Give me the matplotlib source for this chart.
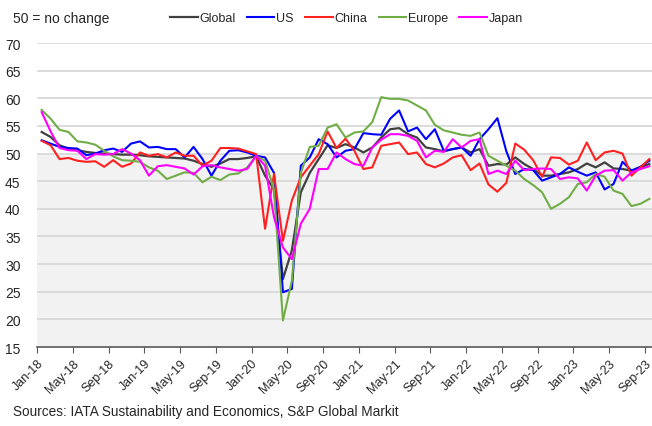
import matplotlib
matplotlib.use('Agg')
import matplotlib.pyplot as plt
import numpy as np

plt.rcParams['font.family'] = ['Liberation Sans', 'DejaVu Sans']

## monthly index values, Jan-18 .. Sep-23
glob = [53.9, 53.0, 51.5, 50.9, 50.6, 50.3, 50.1, 50.0, 49.9, 49.8, 49.8, 49.7,
        49.5, 49.4, 49.3, 49.2, 49.1, 48.7, 48.1, 47.6, 48.2, 49.0, 49.0, 49.2,
        49.5, 46.0, 43.5, 27.3, 32.5, 43.0, 46.5, 49.0, 51.5, 51.0, 51.7, 51.1,
        50.2, 51.1, 52.9, 54.4, 54.6, 53.5, 52.9, 51.1, 50.8, 50.4, 50.8, 51.1,
        50.2, 50.8, 47.8, 48.1, 48.0, 49.3, 48.1, 47.2, 46.0, 46.0, 46.3, 46.6,
        47.2, 48.2, 47.5, 48.4, 47.3, 47.2, 46.9, 47.5, 48.1]
us = [52.4, 51.8, 51.2, 51.0, 50.9, 49.7, 50.0, 50.6, 50.9, 50.3, 51.8, 52.2,
      51.1, 51.2, 50.8, 50.8, 49.3, 51.2, 49.0, 46.0, 48.7, 50.5, 50.6, 50.2,
      49.6, 49.3, 46.5, 24.9, 25.5, 47.8, 49.3, 52.6, 51.7, 49.3, 50.5, 50.8,
      53.7, 53.5, 53.4, 56.3, 57.8, 54.0, 54.7, 52.6, 54.4, 50.5, 50.8, 51.1,
      49.6, 52.6, 54.4, 56.4, 50.4, 46.3, 47.2, 47.0, 45.1, 45.7, 46.3, 47.5,
      46.7, 46.0, 46.6, 43.5, 44.5, 48.5, 46.9, 47.6, 48.7]
china = [52.3, 51.5, 49.0, 49.2, 48.7, 48.5, 48.6, 47.6, 48.8, 47.6, 48.2, 50.2,
         49.6, 49.9, 49.3, 50.2, 49.6, 49.6, 47.8, 48.7, 51.0, 51.0, 50.9, 50.4,
         49.9, 36.4, 46.3, 34.2, 41.5, 45.7, 47.8, 49.9, 54.0, 51.0, 52.7, 50.5,
         47.2, 47.5, 51.4, 51.7, 52.0, 49.9, 50.2, 48.1, 47.5, 48.2, 49.3, 49.7,
         47.0, 48.2, 44.4, 43.1, 44.7, 51.8, 50.7, 48.8, 45.8, 49.3, 49.2, 48.0,
         48.7, 52.0, 48.8, 50.2, 50.5, 50.0, 46.0, 47.5, 49.0]
europe = [57.9, 56.3, 54.3, 53.9, 52.2, 52.0, 51.6, 50.5, 49.5, 48.8, 48.7, 48.5,
          47.5, 46.9, 45.4, 46.0, 46.6, 46.5, 44.8, 45.8, 45.2, 46.2, 46.4, 47.5,
          49.5, 48.7, 43.5, 19.8, 27.0, 46.5, 51.2, 51.4, 54.7, 55.3, 52.9, 53.8,
          54.0, 55.7, 60.2, 59.9, 59.9, 59.6, 58.7, 57.8, 55.2, 54.2, 53.8, 53.4,
          53.2, 53.8, 49.6, 48.7, 47.8, 46.9, 45.4, 44.3, 43.0, 40.0, 40.9, 42.1,
          44.5, 44.8, 46.3, 45.8, 43.3, 42.7, 40.5, 40.9, 41.8]
japan = [57.5, 54.0, 51.0, 50.6, 50.5, 49.0, 49.9, 49.8, 49.9, 50.8, 50.0, 48.8,
         46.0, 47.7, 47.9, 47.6, 47.3, 46.2, 47.7, 47.9, 47.5, 47.2, 46.9, 47.2,
         49.6, 47.8, 38.5, 33.0, 30.9, 37.3, 40.0, 47.2, 47.2, 50.2, 49.0, 48.1,
         47.8, 51.1, 52.5, 53.5, 53.5, 53.2, 52.3, 49.3, 50.5, 50.3, 52.6, 51.1,
         52.3, 52.6, 46.3, 46.9, 46.3, 48.7, 47.0, 47.2, 47.3, 47.2, 45.4, 45.7,
         45.5, 43.3, 46.0, 46.9, 47.0, 45.1, 46.6, 47.2, 47.7]

tick_labels = ['Jan-18', 'May-18', 'Sep-18', 'Jan-19', 'May-19', 'Sep-19',
               'Jan-20', 'May-20', 'Sep-20', 'Jan-21', 'May-21', 'Sep-21',
               'Jan-22', 'May-22', 'Sep-22', 'Jan-23', 'May-23', 'Sep-23']

N = len(glob)
ind = np.arange(N)
txt = '#262626'

fig = plt.figure(figsize=(6.52, 4.27), dpi=100)
ax = fig.add_axes([37.2 / 652, 1 - 348 / 427, 1 - 37.2 / 652, (348 - 44) / 427])

ax.axhspan(15, 50, color='#f2f2f2', zorder=0)  ## contraction zone
for yv in range(20, 75, 5):
    ax.axhline(yv, color='#d9d9d9', lw=1.3, zorder=1)

ax.plot(ind, glob, color='#404040', lw=1.6, label='Global', zorder=3)
ax.plot(ind, us, color='#0000ff', lw=1.5, label='US', zorder=3)
ax.plot(ind, china, color='#ff2020', lw=1.5, label='China', zorder=3)
ax.plot(ind, europe, color='#70ad47', lw=1.5, label='Europe', zorder=3)
ax.plot(ind, japan, color='#ff00ff', lw=1.5, label='Japan', zorder=3)

ax.set_ylim(15, 70)
ax.set_xlim(-0.5, 68.3)
ax.set_yticks(range(15, 75, 5))
ax.set_xticks(np.arange(0, N, 4) - 0.5)
ax.set_xticklabels(tick_labels, rotation=45, ha='right', rotation_mode='anchor', fontsize=9, color=txt)
ax.tick_params(axis='y', length=0, labelsize=10, labelcolor=txt, pad=12)
ax.tick_params(axis='x', length=4, color='#595959', direction='out', pad=3)

for s in ['top', 'right', 'left']:
    ax.spines[s].set_visible(False)
ax.spines['bottom'].set_color('#595959')
ax.spines['bottom'].set_linewidth(1.2)
ax.spines['bottom'].set_zorder(4)

fig.text(13 / 652, 1 - 19 / 427, '50 = no change', fontsize=10, color=txt, va='center')
fig.legend(loc='center left', bbox_to_anchor=(170 / 652, 1 - 19 / 427), ncol=5, frameon=False,
           fontsize=9, handlelength=2.2, handletextpad=0.15, columnspacing=0.9, labelcolor=txt,
           borderaxespad=0, borderpad=0)
fig.text(13 / 652, 1 - 412 / 427, 'Sources: IATA Sustainability and Economics, S&P Global Markit',
         fontsize=9.8, color=txt, va='center')

plt.savefig('out.png', dpi=100)
